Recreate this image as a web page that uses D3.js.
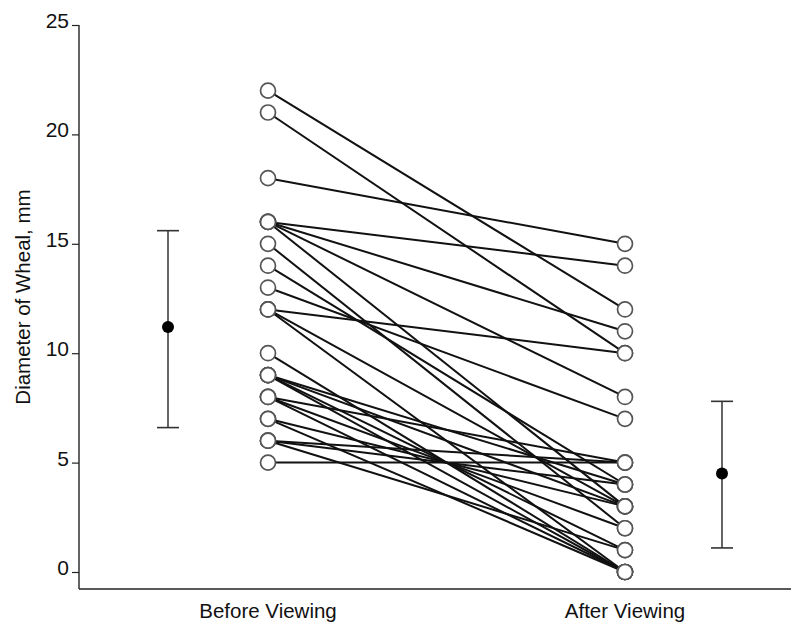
<!DOCTYPE html>
<html lang="en">
<head>
    <meta charset="UTF-8">
    <title>Diameter of Wheal</title>
    <script src="https://d3js.org/d3.v7.min.js"></script>
    <style>
        body { margin: 0; background: #fff; font-family: 'Liberation Sans', Arial, sans-serif; }
        svg text { fill: #111; }
    </style>
</head>
<body>
    <div id="chart"></div>
    <script>
        // paired subjects, before -> after (mm)
        const beforeVals = [22, 21, 18, 16, 16, 16, 16, 15, 14, 13, 12, 12, 12, 10, 9, 9, 9, 9, 8, 8, 8, 7, 7, 6, 6, 6, 5];
        const afterVals  = [12, 10, 15, 14, 11, 8, 3, 2, 4, 7, 10, 3, 0, 0, 4, 3, 1, 0, 5, 2, 0, 3, 0, 5, 4, 1, 5];
        const groups = ["Before Viewing", "After Viewing"];
        // mean and error bar ends
        const meanVals = [11.2, 4.5];
        const lowVals = [6.6, 1.1];
        const highVals = [15.6, 7.8];
        const yTicks = [0, 5, 10, 15, 20, 25];

        const width = 791, height = 626;
        const svg = d3.select("#chart").append("svg")
            .attr("width", width)
            .attr("height", height);

        const y = d3.scaleLinear().domain([0, 25]).range([572, 25]);
        const x = d3.scalePoint().domain(groups).range([268, 625]);
        const xMean = d3.scalePoint().domain(groups).range([168, 722]);

        // y axis
        const yAxis = d3.axisLeft(y).tickValues(yTicks).tickSize(7).tickSizeOuter(0);
        const gy = svg.append("g").attr("transform", "translate(79,0)").call(yAxis);
        gy.select(".domain").attr("d", "M0,25V589").attr("stroke", "#222").attr("stroke-width", 1.4);
        gy.selectAll(".tick line").attr("stroke", "#222").attr("stroke-width", 1.2);
        gy.selectAll(".tick text").attr("x", -10).attr("dy", "0.12em")
            .style("font-size", "21px").style("font-family", "'Liberation Sans', Arial, sans-serif");

        // x axis baseline
        svg.append("line")
            .attr("x1", 79).attr("x2", width)
            .attr("y1", 589).attr("y2", 589)
            .attr("stroke", "#222").attr("stroke-width", 1.4);

        svg.selectAll(".xlabel")
            .data(groups)
            .enter().append("text")
            .attr("x", d => x(d))
            .attr("y", 618)
            .attr("text-anchor", "middle")
            .style("font-size", "20.5px")
            .text(d => d);

        svg.append("text")
            .attr("transform", "translate(30,297) rotate(-90)")
            .attr("text-anchor", "middle")
            .style("font-size", "20.5px")
            .text("Diameter of Wheal, mm");

        // pair lines
        const pairs = beforeVals.map((b, i) => ({ b: b, a: afterVals[i] }));
        svg.append("g").selectAll("line")
            .data(pairs)
            .enter().append("line")
            .attr("x1", x(groups[0])).attr("y1", d => y(d.b))
            .attr("x2", x(groups[1])).attr("y2", d => y(d.a))
            .attr("stroke", "#111")
            .attr("stroke-width", 2);

        // open circles
        const pts = [];
        pairs.forEach(d => { pts.push({ g: groups[0], v: d.b }); pts.push({ g: groups[1], v: d.a }); });
        svg.append("g").selectAll("circle")
            .data(pts)
            .enter().append("circle")
            .attr("cx", d => x(d.g))
            .attr("cy", d => y(d.v))
            .attr("r", 7.5)
            .attr("fill", "#fff")
            .attr("stroke", "#555")
            .attr("stroke-width", 1.7);

        // mean +/- error bars
        const bars = svg.append("g");
        groups.forEach((g, i) => {
            const cx = xMean(g);
            bars.append("line")
                .attr("x1", cx).attr("x2", cx)
                .attr("y1", y(lowVals[i])).attr("y2", y(highVals[i]))
                .attr("stroke", "#555").attr("stroke-width", 1.8);
            [lowVals[i], highVals[i]].forEach(v => {
                bars.append("line")
                    .attr("x1", cx - 11).attr("x2", cx + 11)
                    .attr("y1", y(v)).attr("y2", y(v))
                    .attr("stroke", "#333").attr("stroke-width", 1.6);
            });
            bars.append("circle")
                .attr("cx", cx).attr("cy", y(meanVals[i]))
                .attr("r", 6)
                .attr("fill", "#000");
        });
    </script>
</body>
</html>
